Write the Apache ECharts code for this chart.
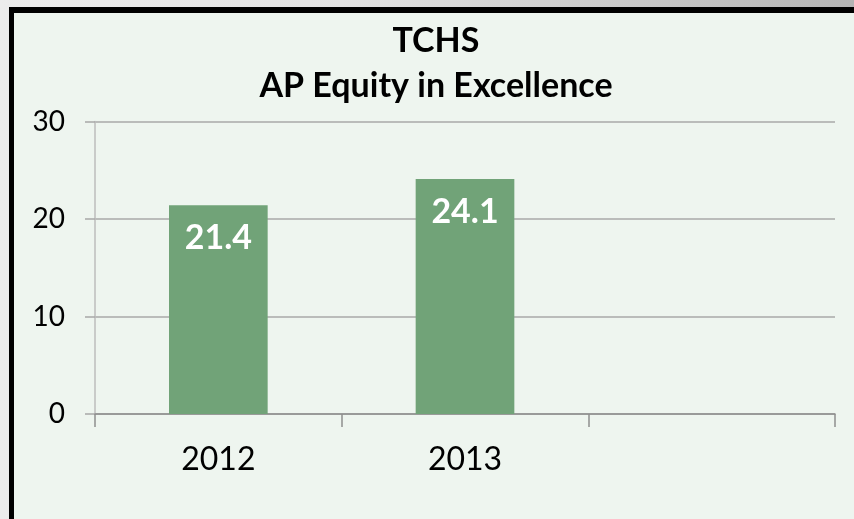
<!DOCTYPE html>
<html>
<head>
<meta charset="utf-8">
<script src="https://cdn.jsdelivr.net/npm/echarts@6/dist/echarts.min.js"></script>
<style>
  html, body { margin: 0; padding: 0; width: 854px; height: 519px; overflow: hidden; }
  body { background: linear-gradient(to right, #ececec 0%, #e2e2e2 40%, #b4b4b4 100%); }
  #frame {
    position: absolute; left: 9px; top: 7px; width: 900px; height: 560px;
    border-left: 5px solid #000; border-top: 6px solid #000;
    background: #eef5ef;
  }
  #chart { position: absolute; left: 0; top: 0; width: 854px; height: 519px; }
</style>
</head>
<body>
<div id="frame"></div>
<div id="chart"></div>
<script>
// 数据
const years = ['2012', '2013', ''];
const equityValues = [21.4, 24.1, null];
const titleLines = ['TCHS', 'AP Equity in Excellence'];

const myChart = echarts.init(document.getElementById('chart'));

let option = {
	backgroundColor: 'transparent',
	textStyle: { fontFamily: 'Lato' },
	title: {
		text: titleLines.join('\n'),
		left: 431,
		top: 14,
		textAlign: 'center',
		textStyle: {
			fontFamily: 'Lato',
			fontWeight: 'bold',
			fontSize: 34,
			lineHeight: 45,
			color: '#000'
		}
	},
	grid: {
		left: 95,
		right: 19,
		top: 121.5,
		bottom: 105
	},
	xAxis: {
		type: 'category',
		data: years,
		boundaryGap: true,
		axisLine: { lineStyle: { color: '#8f8f8f', width: 1.5 } },
		axisTick: { show: true, length: 13, alignWithLabel: false, lineStyle: { color: '#8f8f8f', width: 1.5 } },
		axisLabel: { fontFamily: 'Lato', fontSize: 32, color: '#000', margin: 30 }
	},
	yAxis: {
		type: 'value',
		min: 0,
		max: 30,
		interval: 10,
		axisLine: { show: true, lineStyle: { color: '#bdbdbd', width: 1.5 } },
		axisTick: { show: true, inside: false, length: 10, lineStyle: { color: '#a8a8a8', width: 1.5 } },
		splitLine: { lineStyle: { color: '#a8a8a8', width: 1.5 } },
		axisLabel: { fontFamily: 'Lato', fontSize: 28, color: '#000', margin: 30 }
	},
	series: [{
		type: 'bar',
		data: equityValues,
		barWidth: '40%',
		itemStyle: { color: '#71a378' },
		label: {
			show: true,
			position: 'insideTop',
			distance: 16,
			fontFamily: 'Lato',
			fontWeight: 'bold',
			fontSize: 34,
			color: '#fff'
		}
	}]
};

myChart.setOption(option);
</script>
</body>
</html>
